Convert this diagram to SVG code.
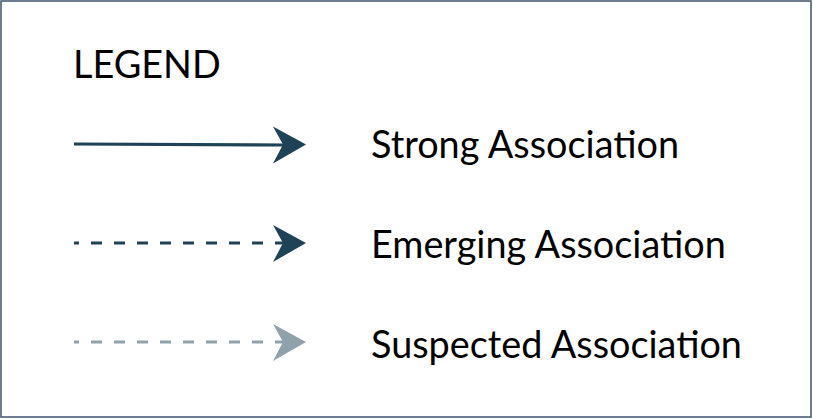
<svg xmlns="http://www.w3.org/2000/svg" width="813" height="419" viewBox="0 0 813 419">
<style>
.t{font-family:Lato,"Liberation Sans",sans-serif;font-size:37.8px;fill:#000}
.dark{stroke:#1f4257;stroke-width:3.2;fill:none}
.light{stroke:#8fa1ab;stroke-width:3.2;fill:none}
.dash{stroke-dasharray:11 12}
</style>
<defs>
<path id="head" d="M0 0 L-33 -18 L-23 0 L-33 19 Z"/>
</defs>
<rect x="1" y="1" width="810" height="416" fill="#fff" stroke="#3c5468" stroke-width="1.5"/>
<g id="title"><text class="t" x="73" y="78">LEGEND</text></g>
<g id="connectors">
<line class="dark" x1="74" y1="144" x2="283" y2="145"/>
<use href="#head" x="306" y="144.5" fill="#1f4257"/>
<line class="dark dash" x1="74" y1="243" x2="283" y2="243" stroke-dashoffset="6"/>
<use href="#head" x="306" y="243" fill="#1f4257"/>
<line class="light dash" x1="74" y1="342" x2="283" y2="342" stroke-dashoffset="6"/>
<use href="#head" x="306" y="342" fill="#8fa1ab"/>
</g>
<g id="label-strong"><text class="t" x="371" y="157.5">Strong Association</text></g>
<g id="label-emerging"><text class="t" x="371" y="257.5">Emerging Association</text></g>
<g id="label-suspected"><text class="t" x="371" y="357.5">Suspected Association</text></g>
</svg>
